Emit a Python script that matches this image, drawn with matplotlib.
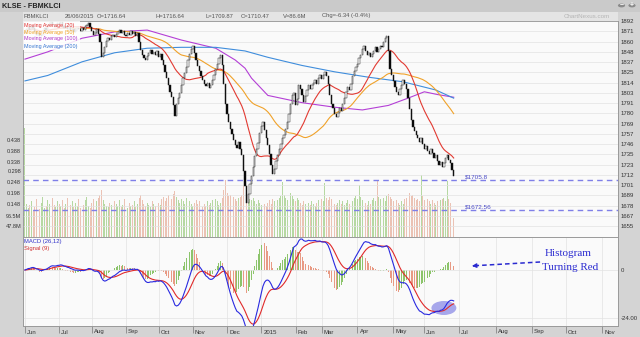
import numpy as np
import pandas as pd
import matplotlib
matplotlib.use("Agg")
import matplotlib.pyplot as plt
from matplotlib.patches import Rectangle, Ellipse, Circle
from matplotlib.transforms import ScaledTranslation, blended_transform_factory

# daily closes, 2 Jun 2014 .. 26 Jun 2015 (trading-day index)
close = [
    1868, 1872, 1874, 1871, 1875, 1873, 1869, 1866, 1868, 1864, 1866, 1870, 1873, 1871, 1876, 1878, 1880,
    1877, 1874, 1876, 1879, 1878, 1880, 1876, 1873, 1875, 1872, 1874, 1870, 1872, 1869, 1871, 1873,
    1872, 1870, 1873, 1871, 1875, 1877, 1879, 1874, 1870, 1866, 1868, 1872, 1867, 1858, 1841, 1846, 1852,
    1859, 1862, 1860, 1864, 1866, 1863, 1867, 1869, 1871, 1868, 1870, 1866, 1864, 1868, 1866, 1870, 1867,
    1869, 1865, 1868,
    1858, 1849, 1843, 1840, 1838, 1842, 1846, 1849, 1845, 1847, 1843, 1848, 1841, 1845, 1838, 1832, 1825,
    1818, 1810, 1803, 1797, 1788, 1776, 1789, 1796, 1802, 1810, 1818, 1824, 1830, 1838, 1845, 1850, 1853,
    1846, 1838, 1831, 1826, 1820, 1816, 1812, 1809, 1813, 1807, 1811, 1816, 1822, 1828, 1834, 1840, 1843,
    1832, 1812, 1790,
    1778, 1770, 1762, 1756, 1750, 1744, 1741, 1748, 1740, 1733, 1716, 1699, 1680, 1690, 1701, 1710, 1720,
    1732, 1740, 1747, 1758, 1765, 1770, 1761, 1752, 1744, 1734, 1722, 1712, 1718, 1727, 1733, 1740, 1746,
    1752, 1755, 1762, 1770, 1778, 1790, 1800, 1802, 1788, 1795, 1810, 1806, 1800, 1792, 1798, 1805, 1810,
    1806, 1810, 1813, 1816, 1812, 1818, 1821, 1817, 1822, 1825, 1820, 1812, 1800, 1790, 1785, 1778, 1775,
    1780, 1785, 1782, 1790, 1796, 1803, 1808, 1805, 1812, 1820, 1826, 1830, 1834, 1840, 1843, 1850, 1854,
    1848, 1843, 1846, 1841, 1845, 1848, 1852, 1847, 1850, 1854, 1852, 1858, 1862, 1865,
    1848, 1828, 1822, 1815, 1808, 1803, 1800, 1806, 1810, 1816, 1812, 1806, 1796, 1784, 1772, 1764, 1760,
    1755, 1752, 1748, 1752, 1745, 1740, 1743, 1738, 1735, 1740, 1736, 1730, 1733, 1727, 1722, 1726, 1720,
    1724, 1730, 1733, 1728, 1724, 1716.81, 1710.47,
]

# daily volume, millions of shares
volume = [
    490, 150, 130, 145, 160, 120, 135, 170, 140, 125, 155, 180, 130, 140, 165, 150, 120, 175, 145, 135, 160, 150,
    140, 165, 130, 150, 175, 125, 145, 160, 135, 155, 140, 170, 130, 150, 145, 165, 180, 140, 130, 155, 170, 150,
    160, 175, 190, 210, 165, 150, 140, 135, 155, 145, 130, 160, 150, 140, 165, 135, 145, 170, 150, 130, 155, 140,
    145, 160, 135, 150, 175, 190, 165, 150, 140, 155, 145, 135, 160, 150, 140, 165, 155, 145, 170, 180, 160, 175,
    190, 185, 170, 195, 205, 180, 165, 155, 170, 160, 150, 175, 145, 160, 150, 140, 155, 165, 150, 160, 145, 135,
    150, 140, 160, 145, 155, 165, 150, 170, 160, 145, 155, 175, 210, 257, 200, 185, 190, 175, 180, 170, 160, 175,
    180, 190, 229, 215, 200, 180, 170, 165, 175, 160, 150, 165, 155, 145, 160, 150, 140, 155, 165, 150, 170, 160,
    150, 165, 175, 185, 248, 190, 175, 165, 180, 200, 185, 170, 160, 175, 165, 155, 145, 160, 150, 140, 155, 145,
    160, 150, 140, 155, 165, 150, 170, 160, 243, 175, 165, 180, 170, 160, 150, 145, 155, 165, 150, 160, 145, 155,
    165, 150, 140, 160, 175, 185, 170, 235, 180, 165, 170, 155, 145, 160, 150, 165, 175, 160, 257, 180, 170, 165,
    175, 160, 185, 195, 180, 170, 160, 150, 165, 155, 145, 160, 150, 170, 175, 215, 200, 185, 190, 175, 165, 170,
    160, 280, 185, 165, 155, 170, 160, 150, 165, 155, 145, 160, 150, 165, 170, 175, 160, 252, 170, 155, 160, 86.6,
]

# long moving averages sampled along the chart (day index, value)
ma100_days = [0, 14, 35, 55, 75, 96, 117, 129, 135, 139, 149, 170, 190, 207, 223, 235, 245, 253, 263]
ma100 = [1839, 1847, 1862, 1869, 1871, 1860, 1851, 1838, 1829, 1818, 1799, 1791, 1786, 1783, 1788, 1796,
         1803, 1800, 1797]
ma200_days = [0, 14, 35, 55, 75, 96, 117, 135, 149, 170, 190, 211, 232, 252, 263]
ma200 = [1815, 1821, 1836, 1846, 1851, 1852, 1852, 1848, 1841, 1832, 1825, 1819, 1814, 1805, 1796]

month_pos = [0, 21, 41, 62, 82, 103, 124, 145, 166, 182, 204, 226, 245, 266, 289, 311, 332, 354]
month_labels = ["Jun", "Jul", "Aug", "Sep", "Oct", "Nov", "Dec", "2015", "Feb", "Mar", "Apr", "May",
                "Jun", "Jul", "Aug", "Sep", "Oct", "Nov"]

price_labels = ["1655", "1667", "1678", "1689", "1701", "1712", "1723", "1735", "1746", "1757", "1769",
                "1780", "1791", "1803", "1814", "1825", "1837", "1848", "1860", "1871", "1892"]
vol_ticks = [47.8, 96.5, 148, 198, 248, 298, 338, 388, 438]
vol_labels = ["47.8M", "96.5M", "0.148", "0.198", "0.248", "0.298", "0.338", "0.388", "0.438"]

support = [1705.8, 1672.56]
support_labels = ["$1705.8", "$1672.56"]

assert len(close) == len(volume)

close = np.array(close, dtype=float)
volume = np.array(volume, dtype=float)
n = len(close)
days = np.arange(n)
opens = np.r_[close[0], close[:-1]]
up = close >= opens

s = pd.Series(close)
ma20 = s.rolling(20, min_periods=1).mean()
ma50 = s.rolling(50, min_periods=1).mean()
ema12 = s.ewm(span=12, adjust=False).mean()
ema26 = s.ewm(span=26, adjust=False).mean()
macd = ema12 - ema26
signal = macd.ewm(span=9, adjust=False).mean()
hist = (macd - signal).values
hist_up = np.r_[True, hist[1:] >= hist[:-1]]

W, H = 640, 337
fig = plt.figure(figsize=(W / 100, H / 100), dpi=100, facecolor="#d4d4d4")
plt.rcParams["font.family"] = ["Liberation Sans", "DejaVu Sans"]

L, R = 22.5 / W, 618 / W
top_main, bot_main, bot_macd = 21 / H, 237 / H, 326 / H

# title strip and info row
fig.patches.append(Rectangle((0, 1 - 12 / H), 1, 12 / H, transform=fig.transFigure,
                             facecolor="#cacaca", edgecolor="none", zorder=0))
fig.patches.append(Rectangle((L, 1 - top_main), R - L, 9 / H, transform=fig.transFigure,
                             facecolor="#e4e4e4", edgecolor="none", zorder=0))
fig.text(2 / W, 1 - 6.5 / H, "KLSE - FBMKLCI", fontsize=5.2, fontweight="bold", color="#222", va="center")
info_y = 1 - 16 / H
for xp, txt in [(23, "FBMKLCI"), (65, "26/06/2015"), (97, "O=1716.64"), (155, "H=1716.64"),
                (205, "L=1709.87"), (241, "C=1710.47"), (283, "V=86.6M"), (322, "Chg=-6.34 (-0.4%)")]:
    fig.text(xp / W, info_y, txt, fontsize=4.2, color="#555", va="center")
fig.text(610 / W, info_y, "ChartNexus.com", fontsize=4.5, color="#b5b5b5", va="center", ha="right")
for cx, sym in [(621.5, "\u2212"), (632, "+")]:
    fig.patches.append(Circle((cx / W, 1 - 5.5 / H), 3.6 / W, transform=fig.transFigure,
                              facecolor="#8a8a8a", edgecolor="none"))
    fig.text(cx / W, 1 - 5.5 / H, sym, fontsize=5, color="white", ha="center", va="center",
             fontweight="bold")

xlim = (-1.5, 363.8)
grid_c = "#e3e3e3"

# ---- price / volume panel ----
axv = fig.add_axes([L, 1 - bot_main, R - L, bot_main - top_main], facecolor="#fafafa")
ax = axv.twinx()
axv.bar(days, volume, width=0.55, color=np.where(up, "#b6d8a2", "#ebc2b4"), linewidth=0)
axv.set_ylim(0, 972)
axv.set_xlim(*xlim)
axv.set_yticks(vol_ticks, vol_labels)
axv.tick_params(axis="y", length=0, pad=1, labelsize=4, colors="#333")
axv.tick_params(axis="x", length=0, labelbottom=False)

ax.set_xlim(*xlim)
ax.set_ylim(1643, 1881)
ax.set_yticks(1655 + 11.3 * np.arange(len(price_labels)), price_labels)
ax.tick_params(axis="y", length=0, pad=2, labelsize=4.3, colors="#333")
ax.set_xticks(month_pos)
ax.tick_params(axis="x", length=0, labelbottom=False)
ax.grid(True, color=grid_c, linewidth=0.5)
ax.set_axisbelow(True)

for val, lab in zip(support, support_labels):
    ax.axhline(val, color="#7f7fe8", linestyle=(0, (4, 3)), linewidth=1.0, zorder=2)
    ax.text(270, val + 0.8, lab, fontsize=4.6, color="#4c4cc8", va="bottom", zorder=6)

ax.plot(ma100_days, ma100, color="#b43fd6", lw=0.8, zorder=3)
ax.plot(ma200_days, ma200, color="#3f8ddc", lw=0.8, zorder=3)
ax.plot(days, ma50, color="#f0a22a", lw=0.8, zorder=3)
ax.plot(days, ma20, color="#e23a32", lw=0.8, zorder=3)

body = np.maximum(np.abs(close - opens), 0.5)
ax.bar(days, body, bottom=np.minimum(close, opens), width=0.8,
       color=np.where(up, "white", "black"), edgecolor="#222", linewidth=0.35, zorder=4)

ax.add_patch(Rectangle((0, 0.866), 0.0966, 0.134, transform=ax.transAxes,
                       facecolor="white", alpha=0.85, edgecolor="none", zorder=5))
for yf, txt, col in [(0.981, "Moving Average (20)", "#e03030"), (0.949, "Moving Average (50)", "#f0a020"),
                     (0.917, "Moving Average (100)", "#b030c8"), (0.884, "Moving Average (200)", "#3575d0")]:
    ax.text(0.003, yf, txt, transform=ax.transAxes, fontsize=3.9, color=col, va="center", zorder=6)

# ---- MACD panel ----
axh = fig.add_axes([L, 1 - bot_macd, R - L, bot_macd - bot_main], facecolor="#fafafa")
axm = axh.twinx()
macd_lim = (-28, 16.5)
k = np.abs(hist).max() / 14
axh.bar(days, hist, width=0.55, color=np.where(hist_up, "#8cc46b", "#e89a84"), linewidth=0)
axh.set_ylim(macd_lim[0] * k, macd_lim[1] * k)
axh.set_xlim(*xlim)
axh.set_yticks([])
axh.set_xticks(month_pos)
axh.tick_params(axis="x", direction="out", length=5, width=0.5, color="#777", labelbottom=False)
axh.grid(True, axis="x", color=grid_c, linewidth=0.5)
axh.set_axisbelow(True)
lab_tf = blended_transform_factory(axh.transData, axh.transAxes) + \
    ScaledTranslation(2 / 100, -6 / 100, fig.dpi_scale_trans)
for p, lab in zip(month_pos, month_labels):
    axh.text(p, 0, lab, transform=lab_tf, fontsize=4.3, color="#333", ha="left", va="center",
             clip_on=False)

axm.set_xlim(*xlim)
axm.set_ylim(*macd_lim)
axm.set_yticks([0, -24], ["0", "-24.00"])
axm.tick_params(axis="y", length=0, pad=2, labelsize=4.3, colors="#333")
axm.grid(True, axis="y", color=grid_c, linewidth=0.5)
axm.add_patch(Ellipse((257, -19), 15.3, 7, facecolor="#8b8be6", alpha=0.75, edgecolor="none", zorder=1))
axm.plot(days, signal, color="#e02a2a", lw=0.8, zorder=3)
axm.plot(days, macd, color="#2a2ae0", lw=0.8, zorder=3)
axm.text(0.003, 0.944, "MACD (26,12)", transform=axm.transAxes, fontsize=4.2, color="#3030c8", va="center")
axm.text(0.003, 0.876, "Signal (9)", transform=axm.transAxes, fontsize=4.2, color="#d03030", va="center")

# annotation with dashed arrow
axm.plot([316, 276], [4.0, 2.15], color="#2a2ad0", lw=1.1, linestyle=(0, (3, 2)), zorder=4)
axm.annotate("", xy=(272.5, 1.95), xytext=(277, 2.2),
             arrowprops=dict(arrowstyle="-|>", color="#2a2ad0", lw=1.0, mutation_scale=6), zorder=4)
axm.text(333, 8, "Histogram", fontsize=8, color="#2a2ad0", ha="center", va="center",
         family=["Liberation Serif", "DejaVu Serif"])
axm.text(334.5, 1, "Turning Red", fontsize=8, color="#2a2ad0", ha="center", va="center",
         family=["Liberation Serif", "DejaVu Serif"])

for a in (axv, ax, axh, axm):
    for sp in a.spines.values():
        sp.set_color("#9a9a9a")
        sp.set_linewidth(0.6)

fig.savefig("out.png", dpi=100, facecolor=fig.get_facecolor())
